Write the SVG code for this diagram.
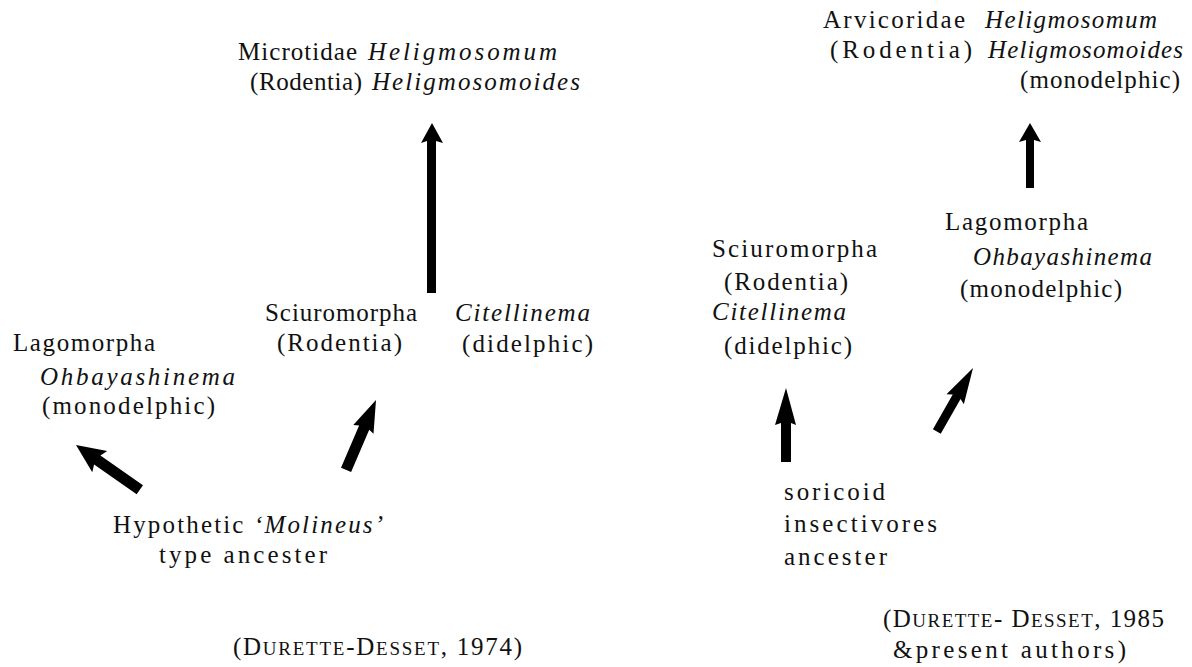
<svg xmlns="http://www.w3.org/2000/svg" width="1192" height="667" viewBox="0 0 1192 667">
<style>
text{font-family:"Liberation Serif","Times New Roman",serif;font-size:25px;fill:#111}
.i{font-style:italic}
.sc{font-size:19px}
.arrow{fill:#000}
</style>
<rect width="1192" height="667" fill="#fff"/>
<g id="connectors">
  <polygon class="arrow" points="432,123 443,143 436,141 436,293 427,293 427,141 421,143"/>
  <polygon class="arrow" points="1030,123 1041,142 1034,140 1034,188 1026,188 1026,140 1019,142"/>
  <polygon class="arrow" points="786,388 796,425 791,423 791,462 781,462 781,423 775,425"/>
  <polygon class="arrow" transform="translate(76,445) rotate(-54.9)" points="0,0 13,29 5.5,26 5.5,78 -5.5,78 -5.5,26 -13,29"/>
  <polygon class="arrow" transform="translate(376,400) rotate(23.2)" points="0,0 11,32 5.5,30 5.5,76 -5.5,76 -5.5,30 -11,32"/>
  <polygon class="arrow" transform="translate(973,368) rotate(29.7)" points="0,0 10,36 4.5,33 4.5,73 -4.5,73 -4.5,33 -10,36"/>
</g>
<g id="left-microtidae">
  <text x="238" y="60" textLength="119" lengthAdjust="spacing">Microtidae</text>
  <text class="i" x="368" y="60" textLength="189" lengthAdjust="spacing">Heligmosomum</text>
  <text x="250" y="90" textLength="112" lengthAdjust="spacing">(Rodentia)</text>
  <text class="i" x="372" y="90" textLength="208" lengthAdjust="spacing">Heligmosomoides</text>
</g>
<g id="left-sciuromorpha">
  <text x="265" y="321" textLength="152" lengthAdjust="spacing">Sciuromorpha</text>
  <text x="277" y="351" textLength="125" lengthAdjust="spacing">(Rodentia)</text>
</g>
<g id="left-citellinema">
  <text class="i" x="455" y="321" textLength="135" lengthAdjust="spacing">Citellinema</text>
  <text x="462" y="352" textLength="131" lengthAdjust="spacing">(didelphic)</text>
</g>
<g id="left-lagomorpha">
  <text x="13" y="351" textLength="142" lengthAdjust="spacing">Lagomorpha</text>
  <text class="i" x="40" y="385" textLength="195" lengthAdjust="spacing">Ohbayashinema</text>
  <text x="42" y="414" textLength="173" lengthAdjust="spacing">(monodelphic)</text>
</g>
<g id="left-ancestor">
  <text x="113" y="533" textLength="270" lengthAdjust="spacing">Hypothetic <tspan class="i">‘Molineus’</tspan></text>
  <text x="159" y="563" textLength="168" lengthAdjust="spacing">type ancester</text>
</g>
<g id="left-citation">
  <text x="233" y="655" textLength="289" lengthAdjust="spacing">(D<tspan class="sc">URETTE</tspan>-D<tspan class="sc">ESSET</tspan>, 1974)</text>
</g>
<g id="right-arvicoridae">
  <text x="823" y="28" textLength="142" lengthAdjust="spacing">Arvicoridae</text>
  <text class="i" x="985" y="28" textLength="172" lengthAdjust="spacing">Heligmosomum</text>
  <text x="830" y="58" textLength="142" lengthAdjust="spacing">(Rodentia)</text>
  <text class="i" x="988" y="58" textLength="195" lengthAdjust="spacing">Heligmosomoides</text>
  <text x="1020" y="88" textLength="160" lengthAdjust="spacing">(monodelphic)</text>
</g>
<g id="right-lagomorpha">
  <text x="945" y="230" textLength="143" lengthAdjust="spacing">Lagomorpha</text>
  <text class="i" x="973" y="265" textLength="179" lengthAdjust="spacing">Ohbayashinema</text>
  <text x="960" y="297" textLength="162" lengthAdjust="spacing">(monodelphic)</text>
</g>
<g id="right-sciuromorpha">
  <text x="712" y="257" textLength="165" lengthAdjust="spacing">Sciuromorpha</text>
  <text x="724" y="290" textLength="124" lengthAdjust="spacing">(Rodentia)</text>
  <text class="i" x="712" y="320" textLength="134" lengthAdjust="spacing">Citellinema</text>
  <text x="724" y="354" textLength="128" lengthAdjust="spacing">(didelphic)</text>
</g>
<g id="right-ancestor">
  <text x="784" y="500" textLength="101" lengthAdjust="spacing">soricoid</text>
  <text x="784" y="532" textLength="153" lengthAdjust="spacing">insectivores</text>
  <text x="784" y="565" textLength="103" lengthAdjust="spacing">ancester</text>
</g>
<g id="right-citation">
  <text x="883" y="627" textLength="281" lengthAdjust="spacing">(D<tspan class="sc">URETTE</tspan>- D<tspan class="sc">ESSET</tspan>, 1985</text>
  <text x="893" y="658" textLength="233" lengthAdjust="spacing">&amp;present  authors)</text>
</g>
</svg>
